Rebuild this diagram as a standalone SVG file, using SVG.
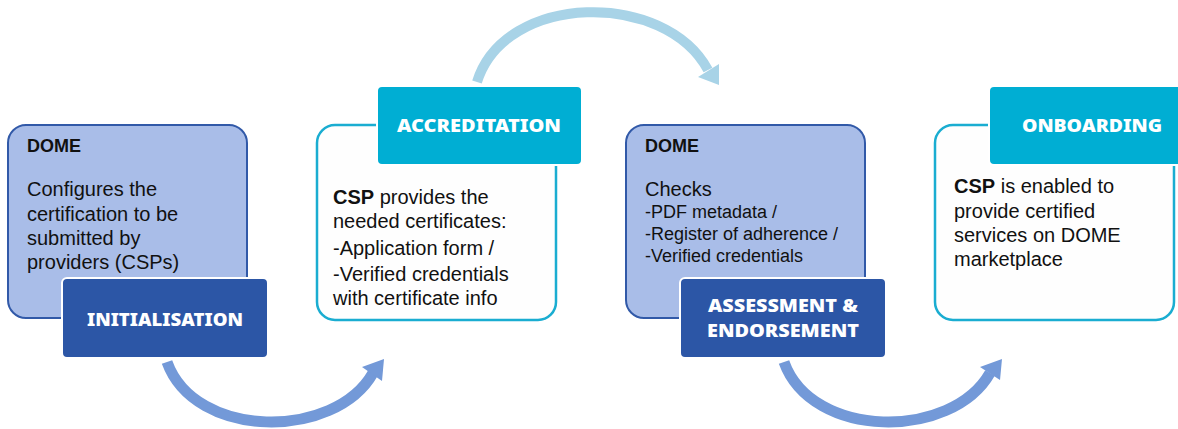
<svg xmlns="http://www.w3.org/2000/svg" width="1178" height="429" viewBox="0 0 1178 429">
<style>
.lb{fill:#A9BDE8;stroke:#3159A8;stroke-width:2}
.wb{fill:#FEFEFE;stroke:#1AADD1;stroke-width:2.5}
.db{fill:#2C56A6;stroke:#FFFFFF;stroke-width:2}
.cb{fill:#00AED3;stroke:#FFFFFF;stroke-width:2}
text{font-family:"Liberation Sans","Noto Sans",sans-serif;fill:#111111}
.h{font-weight:bold;font-size:18px}
.t{font-size:20px}
.s{font-size:18px}
.b{font-weight:bold}
.ttl{font-family:"Noto Sans","Liberation Sans",sans-serif;font-weight:900;font-size:17px;fill:#FFFFFF;text-anchor:middle}
.a1{fill:none;stroke:#7399D8;stroke-width:11}
.a2{fill:none;stroke:#A8D3E7;stroke-width:10}
</style>
<g id="connectors">
<path class="a1" d="M167,362 C195,440 335,440 373,373"/>
<polygon points="384,359 362,367 382,381" fill="#7399D8"/>
<path class="a1" d="M784,362 C812,440 952,440 990,373"/>
<polygon points="1002,359 980,367 1000,380" fill="#7399D8"/>
<path class="a2" d="M477,82 C505,-8 665,-10 708,70"/>
<polygon points="719,64 719,85 698,77" fill="#A8D3E7"/>
</g>
<g id="node-initialisation">
<rect class="lb" x="8" y="125" width="239" height="193" rx="18"/>
<text class="h" x="27" y="152">DOME</text>
<text class="t" x="27" y="196">Configures the</text>
<text class="t" x="27" y="221">certification to be</text>
<text class="t" x="27" y="245">submitted by</text>
<text class="t" x="27" y="269">providers (CSPs)</text>
<rect class="db" x="62" y="278" width="206" height="80" rx="5"/>
<text class="ttl" x="165" y="326" textLength="156" lengthAdjust="spacingAndGlyphs">INITIALISATION</text>
</g>
<g id="node-accreditation">
<rect class="wb" x="317" y="125" width="239" height="195" rx="18"/>
<rect class="cb" x="377" y="86" width="205" height="79" rx="5"/>
<text class="ttl" x="479" y="132" textLength="164" lengthAdjust="spacingAndGlyphs">ACCREDITATION</text>
<text class="t" x="333" y="204"><tspan class="b">CSP</tspan> provides the</text>
<text class="t" x="333" y="228">needed certificates:</text>
<text class="t" x="333" y="255">-Application form /</text>
<text class="t" x="333" y="281">-Verified credentials</text>
<text class="t" x="333" y="305">with certificate info</text>
</g>
<g id="node-assessment">
<rect class="lb" x="626" y="125" width="239" height="193" rx="18"/>
<text class="h" x="645" y="152">DOME</text>
<text class="t" x="645" y="196">Checks</text>
<text class="s" x="645" y="218">-PDF metadata /</text>
<text class="s" x="645" y="240">-Register of adherence /</text>
<text class="s" x="645" y="262">-Verified credentials</text>
<rect class="db" x="680" y="278" width="206" height="80" rx="5"/>
<text class="ttl" x="783" y="312" textLength="150" lengthAdjust="spacingAndGlyphs">ASSESSMENT &amp;</text>
<text class="ttl" x="783" y="337" textLength="152" lengthAdjust="spacingAndGlyphs">ENDORSEMENT</text>
</g>
<g id="node-onboarding">
<rect class="wb" x="935" y="125" width="239" height="195" rx="18"/>
<rect class="cb" x="989" y="86" width="195" height="79" rx="5"/>
<text class="ttl" x="1092" y="132" textLength="140" lengthAdjust="spacingAndGlyphs">ONBOARDING</text>
<text class="t" x="954" y="193"><tspan class="b">CSP</tspan> is enabled to</text>
<text class="t" x="954" y="218">provide certified</text>
<text class="t" x="954" y="242">services on DOME</text>
<text class="t" x="954" y="266">marketplace</text>
</g>
</svg>
